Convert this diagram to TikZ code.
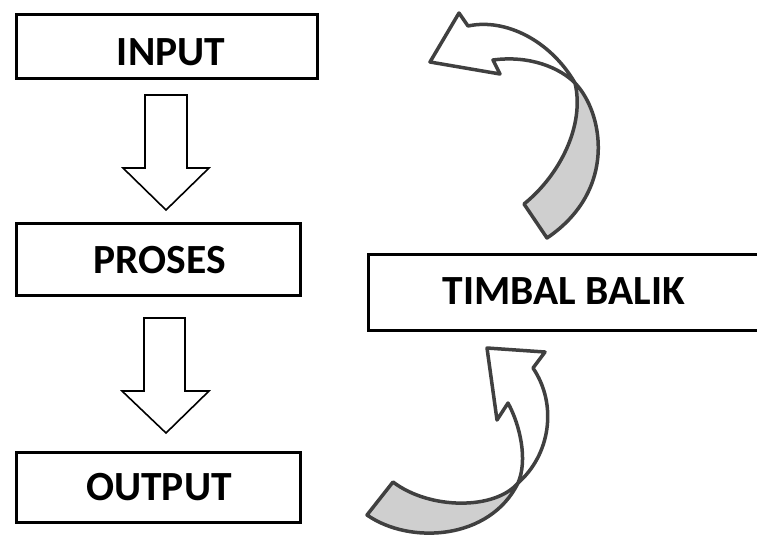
\documentclass[tikz,border=0pt]{standalone}
\usepackage{fontspec}
\setmainfont{Carlito}
\usetikzlibrary{calc}
\definecolor{edgegrey}{HTML}{404040}
\definecolor{ribbongrey}{HTML}{CFCFCF}
\tikzset{
  box/.style={draw=black, line width=3.4pt, fill=white, rectangle, inner sep=0pt},
  lbl/.style={font=\bfseries\fontsize{41.5}{49}\selectfont, inner sep=0pt},
  blockarrow/.style={draw=black, line width=1.6pt, fill=white, line join=miter},
  ribbon/.style={draw=edgegrey, line width=3.5pt, line join=round},
}
\begin{document}
\begin{tikzpicture}[x=1pt, y=-1pt]
\clip (0,0) rectangle (757,538);
\fill[white] (0,0) rectangle (757,538);

% boxes
\node[box, minimum width=301pt, minimum height=64pt] (input) at (167,46.5) {};
\node[box, minimum width=284pt, minimum height=72pt] (proses) at (158.5,259.5) {};
\node[box, minimum width=284pt, minimum height=70pt] (output) at (158.5,487.5) {};
\node[box, minimum width=430pt, minimum height=76pt] (timbal) at (583.5,292.5) {};

% texts
\node[lbl] (inputtxt) at ($(input.center)+(4,6)$) {INPUT};
\node[lbl] (prosestxt) at ($(proses.center)+(1,0.5)$) {PROSES};
\node[lbl] (outputtxt) at ($(output.center)+(0.5,0)$) {OUTPUT};
\node[lbl] (timbaltxt) at ($(timbal.center)+(-19.5,-1)$) {TIMBAL BALIK};

% block arrows down
\draw[blockarrow] (145,95) -- (187,95) -- (187,168) -- (209,168) -- (166,210)
  -- (123,168) -- (145,168) -- cycle;
\draw[blockarrow] (144,318) -- (185,318) -- (185,391) -- (209,391) -- (166,433)
  -- (122,391) -- (144,391) -- cycle;

% upper curved arrow
\coordinate (c1) at (575,83);
\filldraw[ribbon, fill=ribbongrey] (c1) .. controls (603,112) and (618,190) .. (547,238)
  -- (524,204) .. controls (560,175) and (585,125) .. (c1) -- cycle;
\filldraw[ribbon, fill=white] (c1) .. controls (550,40) and (505,18) .. (468,26)
  -- (459,13) -- (430,62) -- (500,74) -- (493,60)
  .. controls (530,55) and (560,68) .. (c1) -- cycle;

% lower curved arrow
\coordinate (c2) at (518,483);
\filldraw[ribbon, fill=ribbongrey] (c2) .. controls (490,540) and (410,545) .. (367,515)
  -- (393,482) .. controls (430,510) and (495,510) .. (c2) -- cycle;
\filldraw[ribbon, fill=white] (c2) .. controls (550,455) and (558,405) .. (533,368)
  -- (545,352) -- (487,348) -- (497,420) -- (508,403)
  .. controls (520,425) and (528,460) .. (c2) -- cycle;
\end{tikzpicture}
\end{document}
